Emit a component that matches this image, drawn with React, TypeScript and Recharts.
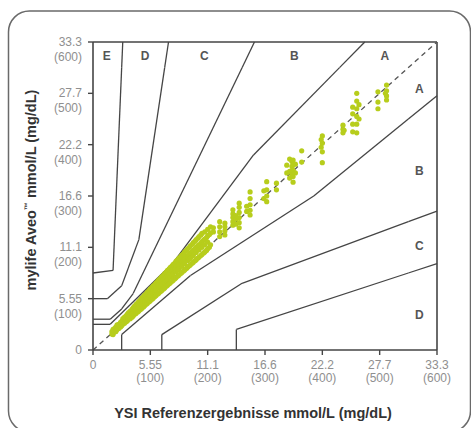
import React from "react";
import {
  ScatterChart,
  Scatter,
  XAxis,
  YAxis,
  ReferenceLine,
} from "recharts";

// axis ticks (mg/dL) with their mmol/L labels
const tickValues = [0, 100, 200, 300, 400, 500, 600];
const mmolLabels = ["0", "5.55", "11.1", "16.6", "22.2", "27.7", "33.3"];
const mgLabels = ["", "(100)", "(200)", "(300)", "(400)", "(500)", "(600)"];

// Parkes error grid boundaries (mg/dL), clipped at 600
const upperA = [[0, 50], [30, 50], [140, 170], [280, 380], [430, 550], [474, 600]];
const upperB = [[0, 60], [30, 60], [50, 80], [70, 110], [260, 550], [281.6, 600]];
const upperC = [[0, 100], [25, 100], [50, 125], [80, 215], [125, 550], [131.7, 600]];
const upperD = [[0, 150], [35, 155], [50, 550], [51.9, 600]];
const lowerA = [[50, 0], [50, 30], [170, 145], [385, 300], [550, 450], [600, 495.5]];
const lowerB = [[120, 0], [120, 30], [260, 130], [550, 250], [600, 270.7]];
const lowerC = [[250, 0], [250, 40], [550, 150], [600, 168.3]];
const boundaries = [upperA, upperB, upperC, upperD, lowerA, lowerB, lowerC];
const identity = [[0, 0], [600, 600]];

const zoneLabels = [
  { x: 24, y: 573, label: "E" },
  { x: 91, y: 573, label: "D" },
  { x: 194, y: 573, label: "C" },
  { x: 351, y: 573, label: "B" },
  { x: 509, y: 573, label: "A" },
  { x: 569, y: 510, label: "A" },
  { x: 569, y: 349, label: "B" },
  { x: 569, y: 203, label: "C" },
  { x: 569, y: 70, label: "D" },
];

// reference value -> meter readings (mg/dL)
const lowReadings: [number, number[]][] = [
  [33, [36, 31]], [35, [30, 40]], [38, [42, 35]], [40, [45, 38, 36]], [42, [40, 49]],
  [45, [50, 42, 47]], [48, [45, 54, 51]], [50, [56, 47, 52]], [52, [58, 50, 61]],
  [55, [60, 52, 64]], [58, [63, 55, 67, 59]], [60, [66, 57, 70]], [62, [69, 60, 73, 64]],
  [65, [71, 61, 76, 67]], [68, [74, 64, 79, 70]], [70, [77, 66, 82, 72]], [72, [80, 69, 85]],
  [75, [82, 71, 89, 78]], [78, [86, 74, 92, 81]], [80, [88, 76, 95, 84]], [83, [91, 79, 98]],
  [85, [94, 81, 101, 88]], [88, [97, 84, 104, 92]], [90, [99, 86, 107, 95]],
  [93, [103, 89, 110]], [95, [105, 91, 113, 100]], [98, [108, 94, 116, 103]],
  [100, [111, 96, 119, 106]], [103, [114, 99, 122]], [105, [117, 101, 125, 110]],
  [108, [120, 104, 128, 113]], [110, [122, 106, 131, 116]], [113, [126, 109, 134]],
  [115, [128, 111, 137, 121]], [118, [131, 114, 140, 124]], [120, [134, 116, 143, 127]],
  [123, [137, 119, 146]], [125, [139, 121, 149, 131]], [128, [142, 124, 152, 135]],
  [130, [145, 126, 155, 137]], [133, [148, 129, 158]], [135, [150, 131, 161, 142]],
  [138, [153, 134, 164, 146]], [140, [156, 136, 167, 148]], [143, [159, 139, 170]],
  [145, [161, 141, 173, 153]], [148, [164, 144, 176, 156]], [150, [167, 146, 179, 158]],
  [153, [170, 149, 182]], [155, [172, 151, 185, 163]], [158, [175, 154, 188]],
  [160, [178, 156, 191, 168]], [163, [181, 159, 194]], [165, [183, 161, 197, 174]],
  [168, [186, 164, 200, 177]], [170, [189, 166, 203, 179]], [173, [192, 169, 206]],
  [175, [194, 171, 209, 184]], [178, [197, 174, 212]], [180, [200, 176, 215, 190]],
  [183, [203, 179, 218]], [185, [205, 181, 221, 195]], [188, [208, 184, 224]],
  [190, [211, 186, 227, 200]], [193, [214, 189]], [195, [216, 191, 230, 205]],
  [198, [219, 194]], [200, [222, 197, 235, 210]], [203, [225, 200]], [205, [228, 205, 240]],
];
const highReadings: [number, number[]][] = [
  [210, [230, 238]], [221, [221, 230, 240, 250]], [230, [224, 232, 240, 247]],
  [244, [243, 250, 258, 265, 273]], [249, [245, 255, 262]],
  [255, [238, 248, 258, 268, 278, 286]], [268, [270, 280]],
  [274, [263, 272, 283, 295, 308]], [298, [295, 310]], [303, [289, 300, 312, 328]],
  [320, [312, 325]], [338, [345, 360]], [343, [335, 348, 372]],
  [347, [341, 350, 358, 367]], [349, [327, 338, 350, 360, 370]], [353, [345, 362]],
  [364, [366, 388]], [398, [395, 410]], [400, [365, 386, 403, 417]],
  [436, [423, 430, 438]], [438, [428]], [453, [425, 440, 460, 473]],
  [460, [423, 440, 455, 470, 485, 500]], [464, [450, 478]],
  [497, [470, 483, 503]], [510, [500]], [512, [487, 495, 505, 516]],
];

const points = [...lowReadings, ...highReadings].flatMap(([x, ys]) =>
  ys.map((y) => ({ x, y }))
);

const LINE = "#454545";
const TICK = "#8f8f8f";

const XTick = (props: any) => {
  const { x, y, payload } = props;
  const i = tickValues.indexOf(payload.value);
  return (
    <g fontFamily="Liberation Sans, Arial, sans-serif" fontSize={12} fill={TICK}>
      <text x={x} y={y} dy={12} textAnchor="middle">{mmolLabels[i]}</text>
      {mgLabels[i] && (
        <text x={x} y={y} dy={25} textAnchor="middle">{mgLabels[i]}</text>
      )}
    </g>
  );
};

const YTick = (props: any) => {
  const { x, y, payload } = props;
  const i = tickValues.indexOf(payload.value);
  return (
    <g fontFamily="Liberation Sans, Arial, sans-serif" fontSize={12} fill={TICK}>
      <text x={x - 4} y={y} dy={4} textAnchor="end">{mmolLabels[i]}</text>
      {mgLabels[i] && (
        <text x={x - 4} y={y} dy={19} textAnchor="end">{mgLabels[i]}</text>
      )}
    </g>
  );
};

const Dot = (props: any) => (
  <circle cx={props.cx} cy={props.cy} r={2.6} fill="#b7cd1c" />
);

const ZoneText = (props: any) => (
  <text
    x={props.cx}
    y={props.cy}
    dy={4.5}
    textAnchor="middle"
    fontFamily="Liberation Sans, Arial, sans-serif"
    fontWeight="bold"
    fontSize={12}
    fill="#555"
  >
    {props.payload.label}
  </text>
);

export default function App() {
  return (
    <div style={{ position: "absolute", left: 0, top: 0, width: 471, height: 428 }}>
      <ScatterChart
        width={471}
        height={428}
        margin={{ top: 42, right: 34, bottom: 38, left: 33 }}
      >
        <XAxis
          type="number"
          dataKey="x"
          domain={[0, 600]}
          ticks={tickValues}
          allowDataOverflow
          height={40}
          tickSize={5}
          axisLine={{ stroke: LINE, strokeWidth: 1.6 }}
          tickLine={{ stroke: LINE, strokeWidth: 1.4 }}
          tick={<XTick />}
        />
        <YAxis
          type="number"
          dataKey="y"
          domain={[0, 600]}
          ticks={tickValues}
          allowDataOverflow
          width={60}
          tickSize={5}
          axisLine={{ stroke: LINE, strokeWidth: 1.6 }}
          tickLine={{ stroke: LINE, strokeWidth: 1.4 }}
          tick={<YTick />}
        />
        <ReferenceLine y={600} stroke={LINE} strokeWidth={1.6} />
        <ReferenceLine x={600} stroke={LINE} strokeWidth={1.6} />
        {boundaries.flatMap((b, bi) =>
          b.slice(1).map((p, i) => (
            <ReferenceLine
              key={`b${bi}-${i}`}
              segment={[
                { x: b[i][0], y: b[i][1] },
                { x: p[0], y: p[1] },
              ]}
              stroke={LINE}
              strokeWidth={1.3}
            />
          ))
        )}
        <ReferenceLine
          segment={[
            { x: identity[0][0], y: identity[0][1] },
            { x: identity[1][0], y: identity[1][1] },
          ]}
          stroke="#555"
          strokeWidth={1.3}
          strokeDasharray="5 4"
        />
        <Scatter data={points} shape={<Dot />} isAnimationActive={false} />
        <Scatter data={zoneLabels} shape={<ZoneText />} isAnimationActive={false} />
      </ScatterChart>
      <svg
        width={471}
        height={428}
        style={{ position: "absolute", left: 0, top: 0, pointerEvents: "none" }}
      >
        <rect x={8.5} y={11} width={462} height={421} rx={21} fill="none" stroke="#6a6a6a" strokeWidth={1.5} />
        <text
          x={253}
          y={418}
          textAnchor="middle"
          fontFamily="Liberation Sans, Arial, sans-serif"
          fontWeight="bold"
          fontSize={14.5}
          fill="#333"
        >
          YSI Referenzergebnisse mmol/L (mg/dL)
        </text>
        <text
          transform="translate(36,190) rotate(-90)"
          textAnchor="middle"
          fontFamily="Liberation Sans, Arial, sans-serif"
          fontWeight="bold"
          fontSize={14.5}
          fill="#333"
        >
          mylife Aveo<tspan fontSize={8} dy={-6}>™</tspan>
          <tspan dy={6}> mmol/L (mg/dL)</tspan>
        </text>
      </svg>
    </div>
  );
}
